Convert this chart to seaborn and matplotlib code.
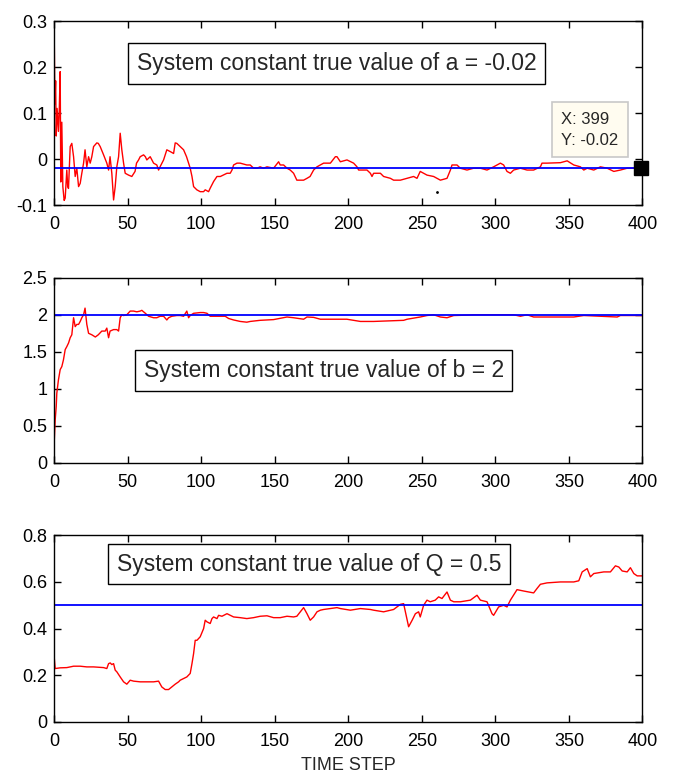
import numpy as np, pandas as pd, matplotlib
matplotlib.use("Agg")
import matplotlib.pyplot as plt
import seaborn as sns

# ==========================
# DATA
# ==========================
A_TRUE, B_TRUE, Q_TRUE = -0.02, 2.0, 0.5
T_END = 400

a_step = [0, 0.5, 1, 1.4, 2, 2.9, 3.5, 4.1, 4.5, 5.2, 5.9, 6.8, 7.5, 8.6, 9.2, 9.75, 10.9, 12, 13.2, 14.3,
          15.4, 16.6, 17.7, 18.8, 20, 21, 22.2, 23.4, 24.5, 25.6, 26.8, 29, 30, 31.3, 33.6, 35.8, 37, 38,
          39.2, 40.4, 41.5, 42.6, 43.8, 44.9, 46, 47.2, 48.3, 50.6, 52.8, 55, 56, 57.4, 58.5, 60.8, 62, 63,
          65.3, 67.6, 69.8, 71, 72, 74.4, 76.6, 79, 81.2, 82.3, 83.4, 85.7, 88, 90, 92.5, 93.7, 94.8, 97,
          99.3, 101.6, 102.7, 105, 106, 108.4, 110.7, 113, 115, 117.5, 119.7, 120.9, 122, 124.3, 126.5, 131,
          133.3, 135.6, 138, 140, 142.4, 144.7, 149.2, 152.6, 153.7, 156, 158.3, 160.5, 162.8, 165, 167,
          169.6, 171.9, 174, 176.4, 178.7, 181, 183.2, 187.8, 191.2, 192.3, 194.6, 199.1, 203.6, 205.9, 207,
          212.7, 215, 216.1, 217.2, 221.8, 224, 228.6, 230.8, 235.4, 240, 244.4, 246.7, 248.9, 251.2, 253.5,
          258, 260.3, 262.6, 267.1, 269.4, 270.5, 273.9, 276.1, 280.7, 285.2, 289.8, 294.3, 298.8, 301.1,
          303.4, 305.6, 307.9, 310.2, 312.4, 317, 321.5, 326, 330.6, 331.7, 335, 344.2, 348.8, 353.3, 357.8,
          360.1, 362.4, 366.9, 371.4, 376, 380.5, 385, 389.6, 394, 399]
a_est = [0.28, 0.12, 0.17, 0.05, 0.11, 0.06, 0.11, 0.19, -0.05, 0.08, -0.06, -0.09, -0.085, -0.024, -0.06,
         -0.064, 0.027, 0.034, 0.005, -0.038, -0.02, -0.06, -0.053, -0.031, -0.009, 0.02, -0.017, 0.005,
         -0.009, 0.005, 0.027, 0.035, 0.034, 0.027, 0.009, -0.009, -0.024, 0.005, -0.031, -0.089, -0.06,
         -0.017, 0.005, 0.056, 0.02, -0.009, -0.031, -0.035, -0.038, -0.027, -0.009, -0.002, 0.005, 0.009,
         0.005, -0.002, 0.005, -0.009, -0.013, -0.024, -0.017, -0.002, 0.02, 0.016, 0.012, 0.035, 0.034,
         0.027, 0.02, 0.005, -0.02, -0.038, -0.06, -0.067, -0.071, -0.071, -0.067, -0.071, -0.064, -0.049,
         -0.038, -0.038, -0.035, -0.031, -0.031, -0.024, -0.013, -0.009, -0.009, -0.013, -0.013, -0.02,
         -0.02, -0.017, -0.02, -0.017, -0.02, -0.006, -0.013, -0.013, -0.02, -0.024, -0.031, -0.046, -0.046,
         -0.046, -0.042, -0.038, -0.024, -0.017, -0.013, -0.009, -0.009, 0.005, 0.005, -0.006, -0.002,
         -0.009, -0.017, -0.024, -0.024, -0.031, -0.038, -0.031, -0.031, -0.038, -0.042, -0.046, -0.046,
         -0.042, -0.038, -0.042, -0.027, -0.031, -0.035, -0.038, -0.042, -0.046, -0.042, -0.024, -0.013,
         -0.013, -0.02, -0.024, -0.02, -0.02, -0.024, -0.017, -0.013, -0.009, -0.013, -0.027, -0.031,
         -0.024, -0.02, -0.024, -0.024, -0.017, -0.009, -0.009, -0.008, -0.004, -0.013, -0.017, -0.024,
         -0.02, -0.024, -0.017, -0.02, -0.027, -0.024, -0.02, -0.02, -0.02]

b_step = [0, 0.7, 1.4, 1.8, 2.9, 4.1, 5.2, 6.3, 7.5, 8.6, 9.8, 10.9, 12, 13.2, 14.3, 15.4, 16.6, 17.7, 18.8,
          20, 21, 22.2, 23.4, 25.6, 28, 30, 32.4, 34.7, 35.8, 37, 38, 40.4, 42.6, 43.8, 44.9, 46, 47.2, 49.4,
          51.7, 54, 56.2, 58.5, 59.6, 62, 64.2, 67.6, 69.8, 72, 74.4, 76.6, 77.8, 80, 83.4, 85.7, 88, 90.2,
          91.4, 92.5, 94.8, 99.3, 101.6, 103.9, 106.1, 110.7, 116.3, 118.6, 122, 126.5, 131, 133.3, 140,
          149.2, 158.3, 162.8, 169.6, 171.9, 176.4, 181, 190, 199, 203.6, 208.2, 217.2, 237.6, 240, 248.9,
          253.5, 258, 262.6, 267.1, 271.7, 280.7, 285.2, 312.4, 317, 321.5, 326, 353.3, 360.1, 382.8, 385, 400]
b_est = [0.27, 0.58, 0.76, 0.94, 1.12, 1.26, 1.30, 1.39, 1.53, 1.57, 1.62, 1.69, 1.73, 1.96, 1.84, 1.87,
         1.87, 1.91, 1.96, 2.0, 2.09, 1.87, 1.75, 1.73, 1.70, 1.73, 1.78, 1.78, 1.82, 1.69, 1.78, 1.80, 1.80,
         1.78, 1.96, 2.0, 1.99, 2.0, 2.05, 2.05, 2.04, 2.05, 2.06, 2.02, 1.98, 1.96, 1.96, 1.98, 1.98, 1.93,
         1.96, 1.98, 1.99, 1.99, 1.98, 2.05, 1.96, 1.99, 2.02, 2.03, 2.03, 2.02, 1.98, 1.98, 1.98, 1.95,
         1.93, 1.91, 1.90, 1.91, 1.925, 1.935, 1.97, 1.96, 1.94, 1.97, 1.965, 1.94, 1.94, 1.94, 1.925, 1.91,
         1.91, 1.925, 1.94, 1.97, 1.99, 2.0, 1.97, 1.96, 1.99, 1.995, 2.0, 2.0, 1.98, 2.0, 1.97, 1.97, 1.99,
         1.97, 1.99, 1.99]

q_step = [0, 0.7, 4.1, 8.6, 13.2, 17.7, 22.2, 26.8, 33.6, 35.8, 37, 38.1, 39.2, 40.4, 41.5, 42.6, 44.9,
          47.2, 49.4, 51.7, 54, 58.5, 63, 67.6, 71, 73.2, 75.5, 77.8, 80, 82.3, 84.6, 85.7, 88, 90.2, 92.5,
          93.7, 94.8, 95.9, 97.1, 99.3, 101.6, 102.7, 103.9, 106.1, 107.3, 108.4, 110.7, 111.8, 114.1, 117.5,
          119.7, 122, 126.5, 131, 135.6, 140.1, 144.7, 149.2, 153.7, 158.3, 162.8, 165, 169.6, 171.9, 174.1,
          176.4, 178.7, 181, 183.2, 187.8, 192.3, 194.6, 201.4, 208.2, 215, 217.2, 224, 230.8, 235.4, 237.6,
          240, 241, 243.4, 245.6, 247.8, 248.9, 251.2, 253.5, 255.7, 259.1, 261.4, 263.7, 267.1, 269.4,
          271.7, 276.2, 283, 287.5, 289.8, 294.3, 297.7, 298.8, 302.2, 305.6, 307.9, 310.2, 314.7, 319.3, 326,
          328.3, 330.6, 335.1, 344.2, 353.3, 356.7, 359, 362.4, 364.6, 366.9, 373.7, 378.2, 381.6, 383.9,
          386.2, 389.6, 391.8, 394.1, 396.4, 400]
q_est = [0.279, 0.229, 0.232, 0.233, 0.239, 0.239, 0.236, 0.236, 0.233, 0.229, 0.25, 0.253, 0.246, 0.25,
         0.222, 0.215, 0.193, 0.172, 0.162, 0.179, 0.175, 0.172, 0.172, 0.172, 0.175, 0.15, 0.139, 0.139,
         0.15, 0.162, 0.172, 0.179, 0.186, 0.193, 0.208, 0.25, 0.293, 0.35, 0.35, 0.365, 0.40, 0.436, 0.429,
         0.422, 0.443, 0.45, 0.443, 0.457, 0.453, 0.464, 0.457, 0.45, 0.447, 0.443, 0.447, 0.453, 0.455,
         0.447, 0.447, 0.453, 0.45, 0.453, 0.49, 0.464, 0.436, 0.45, 0.472, 0.479, 0.482, 0.486, 0.49, 0.486,
         0.479, 0.486, 0.482, 0.479, 0.472, 0.482, 0.504, 0.507, 0.436, 0.408, 0.436, 0.464, 0.472, 0.45,
         0.5, 0.522, 0.515, 0.522, 0.536, 0.529, 0.557, 0.522, 0.515, 0.515, 0.522, 0.543, 0.522, 0.515,
         0.464, 0.457, 0.493, 0.5, 0.493, 0.522, 0.567, 0.561, 0.553, 0.572, 0.59, 0.596, 0.6, 0.6, 0.605,
         0.643, 0.657, 0.622, 0.636, 0.643, 0.643, 0.669, 0.664, 0.647, 0.643, 0.661, 0.636, 0.626, 0.626]

titles = ["System constant true value of a = -0.02",
          "System constant true value of b = 2",
          "System constant true value of Q = 0.5"]
x_ticks = [0, 50, 100, 150, 200, 250, 300, 350, 400]
y_ticks = [[-0.1, 0, 0.1, 0.2, 0.3], [0, 0.5, 1, 1.5, 2, 2.5], [0, 0.2, 0.4, 0.6, 0.8]]
y_ticklabels = [["-0.1", "0", "0.1", "0.2", "0.3"], ["0", "0.5", "1", "1.5", "2", "2.5"],
                ["0", "0.2", "0.4", "0.6", "0.8"]]
tip_x, tip_y = 399, -0.02
stray_dot = (260, -0.071)

# ==========================
# PLOT
# ==========================
sns.set_style("ticks")
plt.rcParams["font.family"] = ["Liberation Sans", "DejaVu Sans"]

fig = plt.figure(figsize=(6.77, 7.78), dpi=100)
rects = [[0.080, 0.7365, 0.869, 0.2365], [0.080, 0.405, 0.869, 0.238], [0.080, 0.072, 0.869, 0.240]]
series = [(a_step, a_est, A_TRUE), (b_step, b_est, B_TRUE), (q_step, q_est, Q_TRUE)]
box_pos = [(0.48, 0.769), (0.458, 0.50), (0.433, 0.845)]

for i, (rect, (xs, ys, true_val)) in enumerate(zip(rects, series)):
    ax = fig.add_axes(rect)
    sns.lineplot(x=xs, y=ys, ax=ax, color="#ff0000", lw=1.0, estimator=None, sort=False)
    sns.lineplot(x=[0, T_END], y=[true_val, true_val], ax=ax, color="#0000ff", lw=1.3, estimator=None)
    ax.set_xlim(0, T_END)
    ax.set_ylim(y_ticks[i][0], y_ticks[i][-1])
    ax.set_xticks(x_ticks)
    ax.set_xticklabels([str(t) for t in x_ticks])
    ax.set_yticks(y_ticks[i])
    ax.set_yticklabels(y_ticklabels[i])
    ax.tick_params(direction="in", length=5, width=1, labelsize=13, top=True, right=True,
                   colors="black", pad=5)
    ax.tick_params(axis="x", pad=8)
    for s in ax.spines.values():
        s.set_visible(True); s.set_color("black"); s.set_linewidth(1.0)
    ax.text(*box_pos[i], titles[i], transform=ax.transAxes, ha="center", va="center", fontsize=16.5,
            bbox=dict(boxstyle="square,pad=0.38", fc="white", ec="black", lw=1.0))
    if i == 0:
        ax.plot([tip_x], [tip_y], marker="s", ms=10, color="black", clip_on=False, zorder=5)
        ax.plot([stray_dot[0]], [stray_dot[1]], marker=".", ms=2, color="black")
        ax.text(0.862, 0.41, f"X: {tip_x}\nY: {tip_y}", transform=ax.transAxes, ha="left", va="center",
                fontsize=12, linespacing=1.5,
                bbox=dict(boxstyle="square,pad=0.55", fc="#fffcf0", ec="#c8c8c8", lw=1.2))
    if i == 2:
        ax.set_xlabel("TIME STEP", fontsize=13, labelpad=5)

fig.savefig("out.png", dpi=100)
